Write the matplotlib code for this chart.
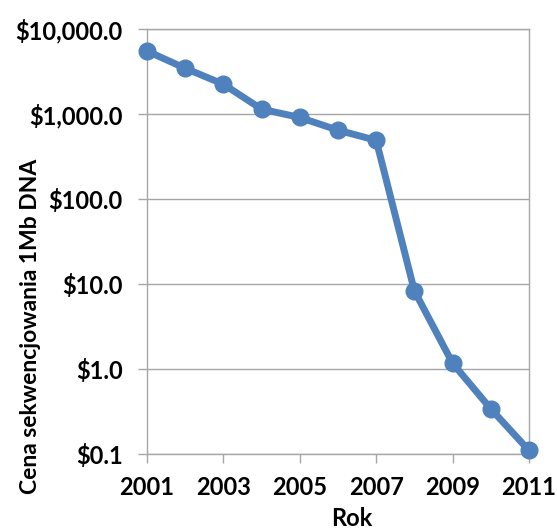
import matplotlib
matplotlib.use("Agg")
import matplotlib.pyplot as plt
from matplotlib.ticker import FuncFormatter, FixedLocator, NullLocator

years = [2001, 2002, 2003, 2004, 2005, 2006, 2007, 2008, 2009, 2010, 2011]
cost = [5500, 3450, 2240, 1140, 910, 645, 490, 8.3, 1.17, 0.34, 0.11]
y_ticks = [0.1, 1, 10, 100, 1000, 10000]
x_ticks = [2001, 2003, 2005, 2007, 2009, 2011]
x_label = "Rok"
y_label = "Cena sekwencjowania 1Mb DNA"

plt.rcParams['font.family'] = ['Lato', 'DejaVu Sans']

fig = plt.figure(figsize=(5.57, 5.32), dpi=100)
ax = fig.add_axes([147/557, 1 - 454/532, (529 - 147)/557, (454 - 29)/532])

ax.plot(years, cost, color='#4F81BD', lw=5, marker='o', ms=12,
        markerfacecolor='#4F81BD', markeredgecolor='#4F81BD', solid_joinstyle='round',
        clip_on=False, zorder=3)
ax.set_yscale('log')
ax.set_ylim(0.1, 10000)
ax.set_xlim(2001, 2011)
ax.yaxis.set_major_locator(FixedLocator(y_ticks))
ax.yaxis.set_minor_locator(NullLocator())
ax.yaxis.set_major_formatter(FuncFormatter(lambda v, p: "${:,.1f}".format(v)))
ax.xaxis.set_major_locator(FixedLocator(x_ticks))
ax.xaxis.set_major_formatter(FuncFormatter(lambda v, p: "%d" % v))

ax.grid(True, axis='y', color='#A6A6A6', lw=1)
for s in ax.spines.values():
    s.set_color('#A6A6A6')
    s.set_linewidth(1)
ax.tick_params(axis='both', colors='#A6A6A6', length=6.5, width=1, direction='out',
               labelcolor='black', labelsize=17)
ax.tick_params(axis='x', pad=9)
ax.tick_params(axis='y', pad=11)
for t in ax.get_xticklabels() + ax.get_yticklabels():
    t.set_fontweight('bold')

fig.text(352/557, 1 - 530/532, x_label, ha='center', va='bottom', fontsize=17, fontweight='bold')
fig.text(31/557, 1 - 326/532, y_label, ha='center', va='center', rotation=90, fontsize=16.5, fontweight='bold')

fig.savefig('out.png', dpi=100)
